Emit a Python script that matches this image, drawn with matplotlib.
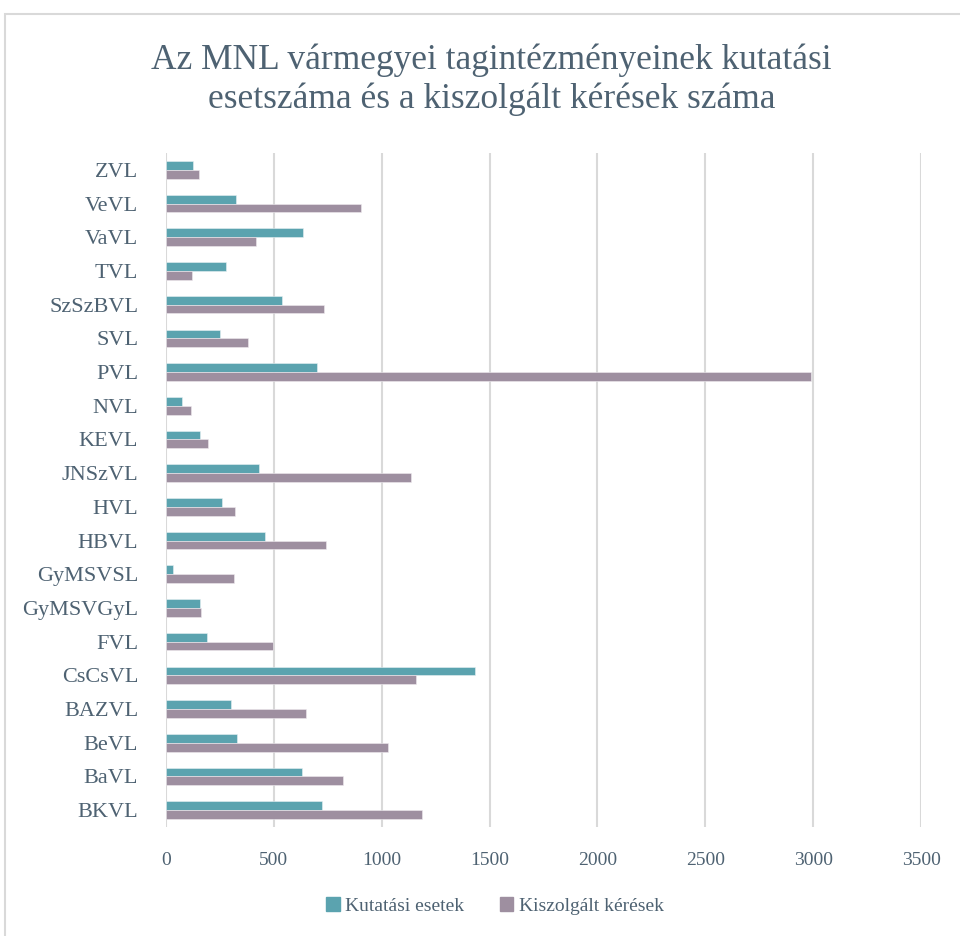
#!/usr/bin/env python3
"""
MNL county archives - research cases vs. served requests (horizontal bars)
"""

import matplotlib
matplotlib.use('Agg')
import matplotlib.pyplot as plt
import matplotlib.patches as mpatches
import numpy as np

# Data (bottom to top, as drawn)
categories = ['BKVL', 'BaVL', 'BeVL', 'BAZVL', 'CsCsVL', 'FVL', 'GyMSVGyL',
              'GyMSVSL', 'HBVL', 'HVL', 'JNSzVL', 'KEVL', 'NVL', 'PVL',
              'SVL', 'SzSzBVL', 'TVL', 'VaVL', 'VeVL', 'ZVL']
kutatasi_esetek = [723, 632, 330, 302, 1432, 192, 156,
                   31, 457, 260, 430, 156, 76, 698,
                   249, 536, 277, 633, 324, 125]
kiszolgalt_keresek = [1186, 822, 1030, 649, 1161, 498, 163,
                      317, 742, 322, 1136, 197, 118, 2990,
                      378, 732, 119, 419, 906, 153]
x_ticks = [0, 500, 1000, 1500, 2000, 2500, 3000, 3500]

TEAL = '#5BA3AF'
MAUVE = '#9E8FA0'
TEXT = '#4E6272'
GRID = '#D9D9D9'
SERIF = ['Liberation Serif', 'DejaVu Serif']


def main():
    fig = plt.figure(figsize=(9.6, 9.36), dpi=100)

    # outer chart border
    fig.patches.append(mpatches.Rectangle(
        (5 / 960, -0.05), 1.1, 1 - 14 / 936 + 0.05,
        transform=fig.transFigure, fill=False, edgecolor=GRID, linewidth=1.5))

    ax = fig.add_axes([166 / 960, 1 - 827 / 936, 755 / 960, 674 / 936])

    y = np.arange(len(categories))
    h = 0.26
    ax.barh(y + h / 2, kutatasi_esetek, height=h, color=TEAL,
            edgecolor='#E8F1F3', linewidth=0.4, label='Kutatási esetek', zorder=3)
    ax.barh(y - h / 2, kiszolgalt_keresek, height=h, color=MAUVE,
            edgecolor='#EFEBEF', linewidth=0.4, label='Kiszolgált kérések', zorder=3)

    ax.set_xlim(0, 3500)
    ax.set_ylim(-0.5, len(categories) - 0.5)
    ax.set_xticks(x_ticks)
    ax.set_xticklabels([str(t) for t in x_ticks], fontsize=14,
                       color=TEXT, family=SERIF)
    ax.set_yticks(y)
    ax.set_yticklabels(categories, fontsize=16, color=TEXT, family=SERIF)
    ax.tick_params(axis='both', length=0)
    ax.tick_params(axis='y', pad=20)
    ax.tick_params(axis='x', pad=18)

    ax.grid(axis='x', color=GRID, linewidth=1.5, zorder=0)
    for s in ax.spines.values():
        s.set_visible(False)

    fig.text(0.512, 0.915,
             'Az MNL vármegyei tagintézményeinek kutatási\n'
             'esetszáma és a kiszolgált kérések száma',
             ha='center', va='center', fontsize=25.5, color=TEXT,
             family=SERIF, linespacing=1.22)

    fig.legend(handles=[mpatches.Patch(color=TEAL, label='Kutatási esetek'),
                        mpatches.Patch(color=MAUVE, label='Kiszolgált kérések')],
               loc='center', bbox_to_anchor=(495 / 960, 1 - 906 / 936), ncol=2,
               frameon=False, prop={'family': SERIF, 'size': 14},
               labelcolor=TEXT, handlelength=0.7, handleheight=0.7,
               handletextpad=0.3, columnspacing=1.8)

    plt.savefig('out.png', dpi=100, facecolor='white')
    plt.close()


if __name__ == '__main__':
    main()
